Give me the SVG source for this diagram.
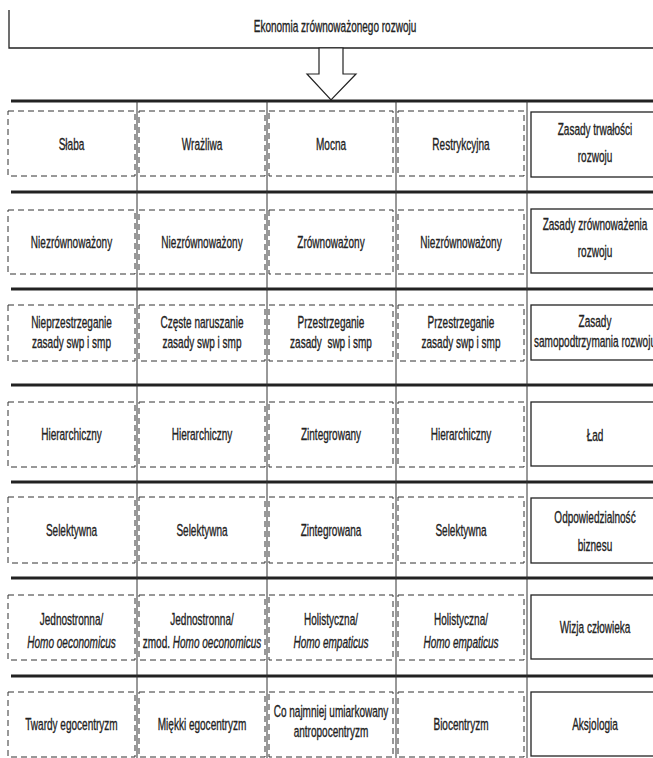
<svg xmlns="http://www.w3.org/2000/svg" width="653" height="758" viewBox="0 0 653 758">
<style>
  text { font-family: "Liberation Sans", Arial, sans-serif; font-size: 17px; fill: #222; stroke: #222; stroke-width: 0.35; text-anchor: middle; }
  .it { font-style: italic; }
  .dash { fill: none; stroke: #333; stroke-width: 1; stroke-dasharray: 6 4; }
  .solid { fill: none; stroke: #222; stroke-width: 1.3; }
  .thick { stroke: #222; stroke-width: 3; }
  .vline { stroke: #333; stroke-width: 1; }
</style>
<rect width="653" height="758" fill="#fff"/>

<g id="grid">
  <line class="thick" x1="11" y1="101" x2="653" y2="101"/>
  <line class="thick" x1="11" y1="192" x2="653" y2="192"/>
  <line class="thick" x1="11" y1="289" x2="653" y2="289"/>
  <line class="thick" x1="11" y1="385" x2="653" y2="385"/>
  <line class="thick" x1="11" y1="482" x2="653" y2="482"/>
  <line class="thick" x1="11" y1="578" x2="653" y2="578"/>
  <line class="thick" x1="11" y1="676" x2="653" y2="676"/>
  <line class="vline" x1="137" y1="101" x2="137" y2="758"/>
  <line class="vline" x1="267" y1="101" x2="267" y2="758"/>
  <line class="vline" x1="396" y1="101" x2="396" y2="758"/>
  <line class="vline" x1="527" y1="101" x2="527" y2="758"/>
</g>

<g id="top">
  <path class="solid" d="M9,10 V48 H653"/>
  <text transform="translate(335,32) scale(0.59,1)">Ekonomia zrównoważonego rozwoju</text>
</g>

<g id="connectors">
  <polygon points="319,48 343,48 343,74 356,74 331,100 307,74 319,74" fill="#fff" stroke="#222" stroke-width="1.2"/>
</g>

<!-- Row 1 -->
<g id="r1c1"><rect class="dash" x="8" y="111" width="127" height="65"/><text transform="translate(71.5,150) scale(0.59,1)">Słaba</text></g>
<g id="r1c2"><rect class="dash" x="139" y="111" width="126" height="65"/><text transform="translate(202,150) scale(0.59,1)">Wrażliwa</text></g>
<g id="r1c3"><rect class="dash" x="269" y="111" width="124" height="65"/><text transform="translate(331,150) scale(0.59,1)">Mocna</text></g>
<g id="r1c4"><rect class="dash" x="398" y="111" width="126" height="65"/><text transform="translate(461,150) scale(0.59,1)">Restrykcyjna</text></g>
<g id="r1c5"><rect class="solid" x="531" y="112" width="130" height="65"/><text transform="translate(595,135) scale(0.59,1)">Zasady trwałości</text><text transform="translate(595,162) scale(0.59,1)">rozwoju</text></g>

<!-- Row 2 -->
<g id="r2c1"><rect class="dash" x="8" y="210" width="127" height="64"/><text transform="translate(71.5,248) scale(0.59,1)">Niezrównoważony</text></g>
<g id="r2c2"><rect class="dash" x="139" y="210" width="126" height="64"/><text transform="translate(202,248) scale(0.59,1)">Niezrównoważony</text></g>
<g id="r2c3"><rect class="dash" x="269" y="210" width="124" height="64"/><text transform="translate(331,248) scale(0.59,1)">Zrównoważony</text></g>
<g id="r2c4"><rect class="dash" x="398" y="210" width="126" height="64"/><text transform="translate(461,248) scale(0.59,1)">Niezrównoważony</text></g>
<g id="r2c5"><rect class="solid" x="531" y="209" width="130" height="64"/><text transform="translate(595,230) scale(0.59,1)">Zasady zrównoważenia</text><text transform="translate(595,257) scale(0.59,1)">rozwoju</text></g>

<!-- Row 3 -->
<g id="r3c1"><rect class="dash" x="8" y="305" width="127" height="56"/><text transform="translate(71.5,328) scale(0.59,1)">Nieprzestrzeganie</text><text transform="translate(71.5,348) scale(0.59,1)">zasady swp i smp</text></g>
<g id="r3c2"><rect class="dash" x="139" y="305" width="126" height="56"/><text transform="translate(202,328) scale(0.59,1)">Częste naruszanie</text><text transform="translate(202,348) scale(0.59,1)">zasady swp i smp</text></g>
<g id="r3c3"><rect class="dash" x="269" y="305" width="124" height="56"/><text transform="translate(331,328) scale(0.59,1)">Przestrzeganie</text><text transform="translate(331,348) scale(0.59,1)" style="white-space:pre">zasady  swp i smp</text></g>
<g id="r3c4"><rect class="dash" x="398" y="305" width="126" height="56"/><text transform="translate(461,328) scale(0.59,1)">Przestrzeganie</text><text transform="translate(461,348) scale(0.59,1)">zasady swp i smp</text></g>
<g id="r3c5"><rect class="solid" x="531" y="305" width="130" height="55"/><text transform="translate(595,327) scale(0.59,1)">Zasady</text><text transform="translate(595,347) scale(0.59,1)">samopodtrzymania rozwoju</text></g>

<!-- Row 4 -->
<g id="r4c1"><rect class="dash" x="8" y="402" width="127" height="65"/><text transform="translate(71.5,440) scale(0.59,1)">Hierarchiczny</text></g>
<g id="r4c2"><rect class="dash" x="139" y="402" width="126" height="65"/><text transform="translate(202,440) scale(0.59,1)">Hierarchiczny</text></g>
<g id="r4c3"><rect class="dash" x="269" y="402" width="124" height="65"/><text transform="translate(331,440) scale(0.59,1)">Zintegrowany</text></g>
<g id="r4c4"><rect class="dash" x="398" y="402" width="126" height="65"/><text transform="translate(461,440) scale(0.59,1)">Hierarchiczny</text></g>
<g id="r4c5"><rect class="solid" x="531" y="402" width="130" height="64"/><text transform="translate(595,441) scale(0.59,1)">Ład</text></g>

<!-- Row 5 -->
<g id="r5c1"><rect class="dash" x="8" y="497" width="127" height="66"/><text transform="translate(71.5,536) scale(0.59,1)">Selektywna</text></g>
<g id="r5c2"><rect class="dash" x="139" y="497" width="126" height="66"/><text transform="translate(202,536) scale(0.59,1)">Selektywna</text></g>
<g id="r5c3"><rect class="dash" x="269" y="497" width="124" height="66"/><text transform="translate(331,536) scale(0.59,1)">Zintegrowana</text></g>
<g id="r5c4"><rect class="dash" x="398" y="497" width="126" height="66"/><text transform="translate(461,536) scale(0.59,1)">Selektywna</text></g>
<g id="r5c5"><rect class="solid" x="531" y="498" width="130" height="65"/><text transform="translate(595,523) scale(0.59,1)">Odpowiedzialność</text><text transform="translate(595,551) scale(0.59,1)">biznesu</text></g>

<!-- Row 6 -->
<g id="r6c1"><rect class="dash" x="8" y="595" width="127" height="65"/><text transform="translate(71.5,625) scale(0.59,1)">Jednostronna/</text><text class="it" transform="translate(71.5,648) scale(0.59,1)">Homo oeconomicus</text></g>
<g id="r6c2"><rect class="dash" x="139" y="595" width="126" height="65"/><text transform="translate(202,625) scale(0.59,1)">Jednostronna/</text><text transform="translate(202,648) scale(0.59,1)">zmod. <tspan class="it">Homo oeconomicus</tspan></text></g>
<g id="r6c3"><rect class="dash" x="269" y="595" width="124" height="65"/><text transform="translate(331,625) scale(0.59,1)">Holistyczna/</text><text class="it" transform="translate(331,648) scale(0.59,1)">Homo empaticus</text></g>
<g id="r6c4"><rect class="dash" x="398" y="595" width="126" height="65"/><text transform="translate(461,625) scale(0.59,1)">Holistyczna/</text><text class="it" transform="translate(461,648) scale(0.59,1)">Homo empaticus</text></g>
<g id="r6c5"><rect class="solid" x="531" y="595" width="130" height="64"/><text transform="translate(595,633) scale(0.59,1)">Wizja człowieka</text></g>

<!-- Row 7 -->
<g id="r7c1"><rect class="dash" x="8" y="692" width="127" height="65"/><text transform="translate(71.5,730) scale(0.59,1)">Twardy egocentryzm</text></g>
<g id="r7c2"><rect class="dash" x="139" y="692" width="126" height="65"/><text transform="translate(202,730) scale(0.59,1)">Miękki egocentryzm</text></g>
<g id="r7c3"><rect class="dash" x="269" y="692" width="124" height="65"/><text transform="translate(331,717) scale(0.59,1)">Co najmniej umiarkowany</text><text transform="translate(331,737) scale(0.59,1)">antropocentryzm</text></g>
<g id="r7c4"><rect class="dash" x="398" y="692" width="126" height="65"/><text transform="translate(461,730) scale(0.59,1)">Biocentryzm</text></g>
<g id="r7c5"><rect class="solid" x="531" y="692" width="130" height="64"/><text transform="translate(595,730) scale(0.59,1)">Aksjologia</text></g>
</svg>
